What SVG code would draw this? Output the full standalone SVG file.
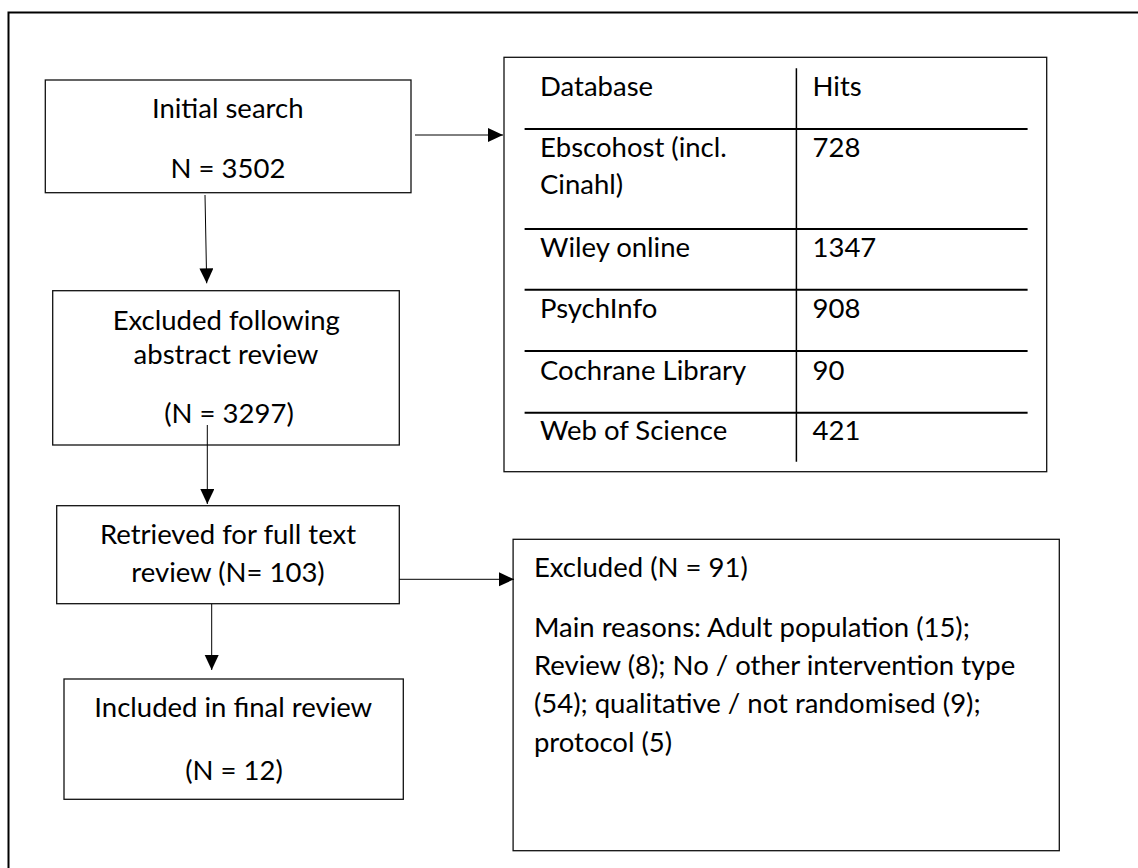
<svg xmlns="http://www.w3.org/2000/svg" width="1138" height="868" viewBox="0 0 1138 868">
<style>
text{font-family:Lato,"Open Sans","Liberation Sans",sans-serif;font-size:27.5px;fill:#000}
.c{text-anchor:middle}
.box{fill:#fff;stroke:#111;stroke-width:1.3}
.frame{fill:none;stroke:#000;stroke-width:2}
.rule{stroke:#000;stroke-width:2}
.div{stroke:#000;stroke-width:1.5}
.con{stroke:#000;stroke-width:1;fill:none}
</style>
<defs>
<marker id="ah" markerUnits="userSpaceOnUse" markerWidth="16" markerHeight="16" viewBox="0 0 16 16" refX="15" refY="7" orient="auto">
<path d="M0,0 L15,7 L0,14 Z" fill="#000"/>
</marker>
</defs>
<rect width="1138" height="868" fill="#fff"/>
<path class="frame" d="M1138,12.5 H8.5 V868"/>

<g id="initial">
<rect class="box" x="45.3" y="80" width="365.7" height="112.7"/>
<text class="c" x="227.7" y="118">Initial search</text>
<text class="c" x="228" y="178">N = 3502</text>
</g>

<g id="database-table">
<rect class="box" x="504" y="57.3" width="542.7" height="414.4"/>
<line class="div" x1="796.4" y1="68.3" x2="796.4" y2="461.7"/>
<line class="rule" x1="524.6" y1="129" x2="1027.6" y2="129"/>
<line class="rule" x1="524.6" y1="229" x2="1027.6" y2="229"/>
<line class="rule" x1="524.6" y1="289.7" x2="1027.6" y2="289.7"/>
<line class="rule" x1="524.6" y1="351" x2="1027.6" y2="351"/>
<line class="rule" x1="524.6" y1="412.7" x2="1027.6" y2="412.7"/>
<text x="540" y="96">Database</text>
<text x="812.5" y="96">Hits</text>
<text x="540" y="157.3">Ebscohost (incl.</text>
<text x="540" y="194">Cinahl)</text>
<text x="812.5" y="157.3">728</text>
<text x="540" y="256.7">Wiley online</text>
<text x="812.5" y="256.7">1347</text>
<text x="540" y="318.3">PsychInfo</text>
<text x="812.5" y="318.3">908</text>
<text x="540" y="380">Cochrane Library</text>
<text x="812.5" y="380">90</text>
<text x="540" y="440">Web of Science</text>
<text x="812.5" y="440">421</text>
</g>

<g id="excluded-abstract">
<rect class="box" x="52.7" y="290.7" width="346.6" height="154.3"/>
<text class="c" x="226.3" y="330">Excluded following</text>
<text class="c" x="226" y="364">abstract review</text>
<text class="c" x="229" y="422.7">(N = 3297)</text>
</g>

<g id="retrieved">
<rect class="box" x="56.7" y="505.7" width="342.6" height="98"/>
<text class="c" x="228" y="544">Retrieved for full text</text>
<text class="c" x="228" y="581.7">review (N= 103)</text>
</g>

<g id="included">
<rect class="box" x="64" y="679" width="339.3" height="120.3"/>
<text class="c" x="233.3" y="716.7">Included in final review</text>
<text class="c" x="234" y="780">(N = 12)</text>
</g>

<g id="excluded-fulltext">
<rect class="box" x="513.1" y="539.3" width="546.2" height="311.4"/>
<text x="533.9" y="576.7">Excluded (N = 91)</text>
<text x="533.9" y="637.3">Main reasons: Adult population (15);</text>
<text x="533.9" y="675">Review (8); No / other intervention type</text>
<text x="533.9" y="712.7">(54); qualitative / not randomised (9);</text>
<text x="533.9" y="751.7">protocol (5)</text>
</g>

<g id="connectors">
<line class="con" x1="205" y1="195" x2="206.7" y2="283.3" marker-end="url(#ah)"/>
<line class="con" x1="415" y1="135" x2="503" y2="135" marker-end="url(#ah)"/>
<line class="con" x1="207.3" y1="425" x2="207.3" y2="504" marker-end="url(#ah)"/>
<line class="con" x1="399.3" y1="579.3" x2="514" y2="579.3" marker-end="url(#ah)"/>
<line class="con" x1="211.7" y1="604" x2="211.7" y2="670" marker-end="url(#ah)"/>
</g>
</svg>
